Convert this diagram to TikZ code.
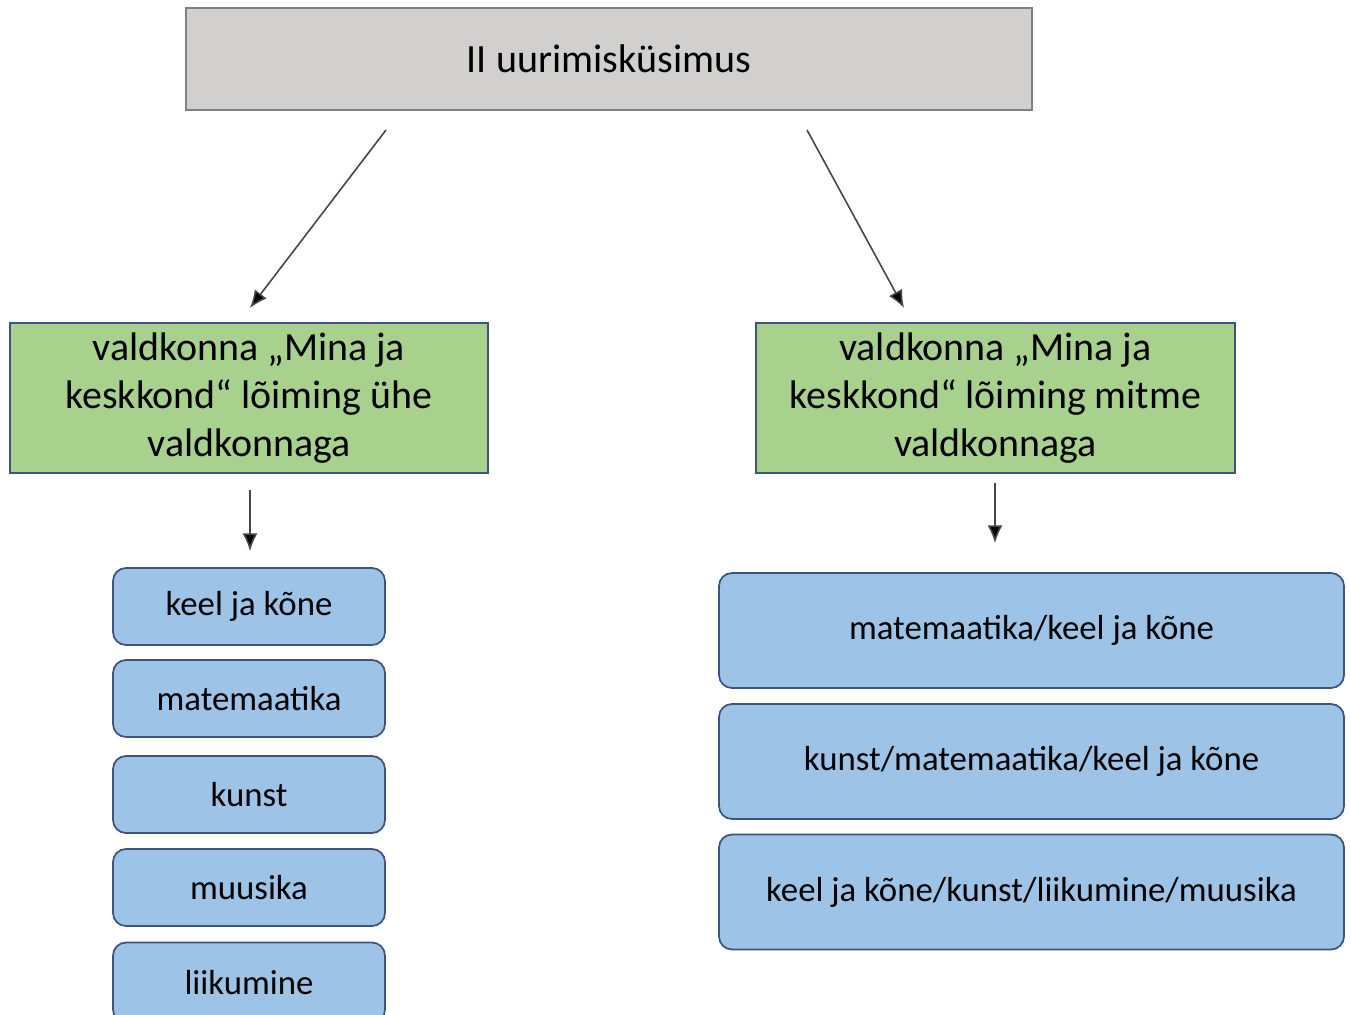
\documentclass[tikz,border=0pt]{standalone}
\usepackage{fontspec}
\setmainfont{Carlito}
\usetikzlibrary{arrows.meta}
\definecolor{topgray}{RGB}{210,207,207}
\definecolor{topline}{RGB}{128,128,128}
\definecolor{areagreen}{RGB}{169,209,142}
\definecolor{subjblue}{RGB}{157,195,230}
\definecolor{boxline}{RGB}{60,85,125}
\definecolor{arrowgray}{RGB}{70,70,70}
\tikzset{
  questionbox/.style={draw=topline, line width=1.2pt, fill=topgray, inner sep=0pt,
    minimum width=16.92cm, minimum height=2.04cm, font=\fontsize{22.8}{27}\selectfont},
  areabox/.style={draw=boxline, line width=1pt, fill=areagreen, inner sep=0pt, align=center,
    minimum width=9.57cm, minimum height=3cm, font=\fontsize{22.7}{27.2}\selectfont},
  subjbox/.style={draw=boxline, line width=1pt, fill=subjblue, rounded corners=0.26cm, inner sep=0pt,
    minimum width=5.44cm, minimum height=1.54cm, font=\fontsize{19.8}{23}\selectfont},
  combobox/.style={subjbox, minimum width=12.5cm, minimum height=2.3cm},
  linkarrow/.style={draw=arrowgray, line width=0.9pt, -{Latex[length=10pt,width=8.5pt,fill=black]}}
}
\begin{document}
\begin{tikzpicture}
\useasboundingbox[fill=white] (0,0) rectangle (27.02,-20.3);
\begin{scope}
\clip (0,0) rectangle (27.02,-20.3);
\node[questionbox] (kysimus) at (12.18,-1.18) {II uurimisküsimus};
\node[areabox] (yhe) at (4.98,-7.96) {valdkonna „Mina ja\\keskkond“ lõiming ühe\\valdkonnaga};
\node[areabox] (mitme) at (19.91,-7.96) {valdkonna „Mina ja\\keskkond“ lõiming mitme\\valdkonnaga};
\node[subjbox] (keel) at (4.98,-12.13) {keel ja kõne};
\node[subjbox] (mate) at (4.98,-13.97) {matemaatika};
\node[subjbox] (kunst) at (4.98,-15.89) {kunst};
\node[subjbox] (muusika) at (4.98,-17.75) {muusika};
\node[subjbox, minimum height=1.6cm] (liik) at (4.98,-19.65) {liikumine};
\node[combobox] (kaks) at (20.63,-12.61) {matemaatika/keel ja kõne};
\node[combobox] (kolm) at (20.63,-15.23) {kunst/matemaatika/keel ja kõne};
\node[combobox] (neli) at (20.63,-17.84) {keel ja kõne/kunst/liikumine/muusika};
\coordinate (a1) at (7.72,-2.6);  \coordinate (b1) at (5.0,-6.16);
\coordinate (a2) at (16.14,-2.6); \coordinate (b2) at (18.08,-6.16);
\coordinate (a3) at (5.0,-9.8);   \coordinate (b3) at (5.0,-11.02);
\coordinate (a4) at (19.9,-9.66); \coordinate (b4) at (19.9,-10.86);
\draw[linkarrow] (a1) -- (b1);
\draw[linkarrow] (a2) -- (b2);
\draw[linkarrow] (a3) -- (b3);
\draw[linkarrow] (a4) -- (b4);
\end{scope}
\end{tikzpicture}
\end{document}
